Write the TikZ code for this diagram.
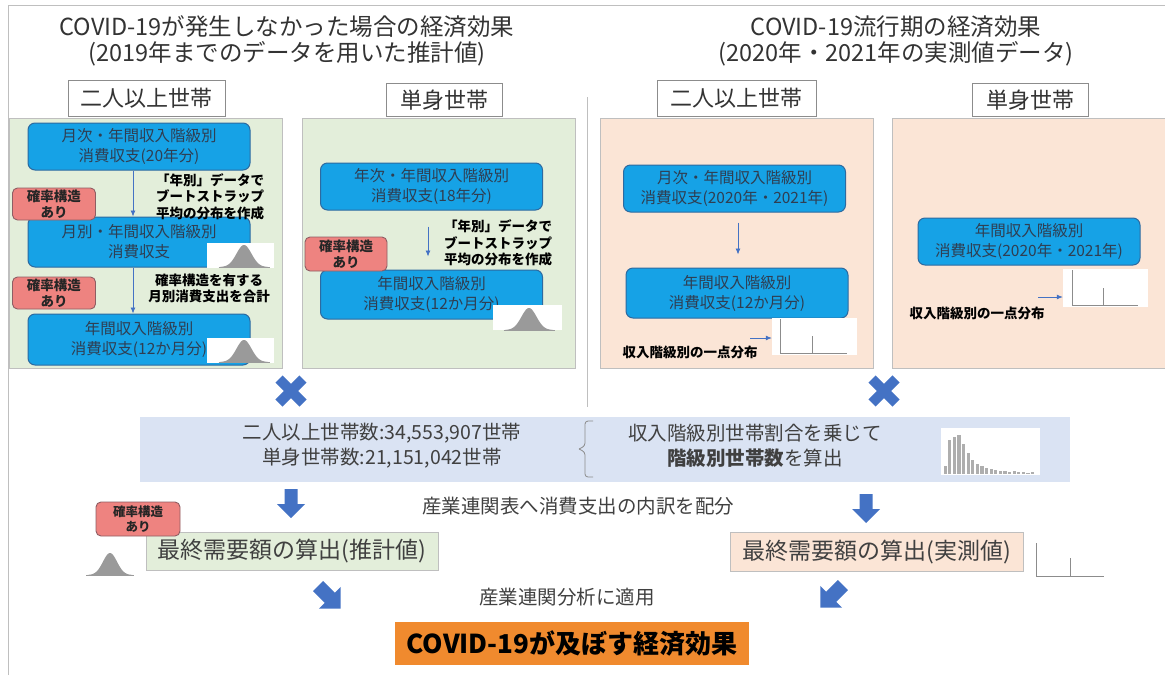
\documentclass[tikz,border=0pt]{standalone}
\usepackage{fontspec}
\setmainfont{Noto Sans CJK JP}
\usetikzlibrary{arrows.meta}
\definecolor{pgreen}{HTML}{E3EEDA}
\definecolor{ppeach}{HTML}{FBE5D6}
\definecolor{pline}{HTML}{BFBFBF}
\definecolor{bfill}{HTML}{16A2E6}
\definecolor{bdraw}{HTML}{2D6AA0}
\definecolor{btext}{HTML}{2F3E52}
\definecolor{rfill}{HTML}{EE8380}
\definecolor{rdraw}{HTML}{8E5D63}
\definecolor{ablue}{HTML}{4472C4}
\definecolor{bandc}{HTML}{DAE3F3}
\definecolor{orangec}{HTML}{F08A2E}
\definecolor{tgray}{HTML}{333333}
\definecolor{mgray}{HTML}{404040}
\definecolor{bellgray}{HTML}{9A9A9A}
\definecolor{axgray}{HTML}{8C8C8C}
\newcommand\blockarrow[4]{\fill[ablue,shift={(#1,#2)},rotate=#3,scale=#4] (-6.5,-14) -- (6.5,-14) -- (6.5,1) -- (14,1) -- (0,15) -- (-14,1) -- (-6.5,1) -- cycle;}
\newcommand\crossmark[2]{\draw[ablue,line width=10pt,shift={(#1,#2)}] (-12,-12) -- (12,12) (-12,12) -- (12,-12);}
\newcommand\bellcurve[4]{\fill[bellgray] plot[domain=-3.2:3.2,samples=50] ({#1+#3*\x},{#2-#4*exp(-(\x*\x)/2)}) -- cycle;
  \draw[bellgray,line width=0.6pt] ({#1-3.4*#3},#2) -- ({#1+3.4*#3},#2);}
\newcommand\spikeplot[6]{\draw[axgray,line width=0.9pt] (#1,#2) -- (#1,#3) -- (#4,#3); \draw[axgray,line width=0.9pt] (#5,#6) -- (#5,#3);}
\tikzset{
  panelG/.style={fill=pgreen,draw=pline,line width=0.8pt,minimum width=273,minimum height=250,inner sep=0},
  panelP/.style={fill=ppeach,draw=pline,line width=0.8pt,minimum width=273,minimum height=250,inner sep=0},
  hdr/.style={draw=axgray,fill=white,line width=0.8pt,text=tgray,font=\fontsize{22}{26}\selectfont,minimum height=36,inner sep=0},
  ttl/.style={text=tgray,align=center,font=\fontsize{23.5}{26}\selectfont,inner sep=0},
  bbox/.style={rounded corners=7pt,fill=bfill,draw=bdraw,line width=1pt,text=btext,align=center,font=\fontsize{15.5}{20}\selectfont,minimum width=222,inner sep=0},
  redbox/.style={rounded corners=5pt,fill=rfill,draw=rdraw,line width=0.9pt,text=black!85,align=center,font=\bfseries\fontsize{13.5}{16}\selectfont,minimum width=83,minimum height=32,inner sep=0},
  note/.style={text=black,align=center,font=\bfseries\fontsize{13.5}{16.5}\selectfont,inner sep=0},
  imgbox/.style={fill=white,draw=none,inner sep=0},
  thinarrow/.style={draw=ablue,line width=0.8pt,-{Latex[length=6pt,width=5pt]}},
  midtxt/.style={text=mgray,align=center,font=\fontsize{19.5}{25}\selectfont,inner sep=0},
  captxt/.style={text=mgray,font=\fontsize{19.5}{24}\selectfont,inner sep=0},
  resbox/.style={draw=pline,line width=0.8pt,text=mgray,font=\fontsize{23}{27}\selectfont,inner sep=0}
}
\begin{document}
\begin{tikzpicture}[x=1pt,y=-1pt]
\useasboundingbox (0,0) rectangle (1165,675);
% outer frame
\draw[pline,line width=1pt] (8,675) -- (8,5) -- (1165,5);
% titles
\node[ttl] (tL) at (287,41) {COVID-19が発生しなかった場合の経済効果\\(2019年までのデータを用いた推計値)};
\node[ttl] (tR) at (896,41) {COVID-19流行期の経済効果\\(2020年・2021年の実測値データ)};
% divider
\draw[pline,line width=0.9pt] (587,97) -- (587,407);
% panels
\node[panelG] (p1) at (146,243) {};
\node[panelG] (p2) at (438.5,243) {};
\node[panelP] (p3) at (736.5,243) {};
\node[panelP] (p4) at (1028.5,243) {};
% header boxes
\node[hdr,minimum width=157] (h1) at (146.5,98) {二人以上世帯};
\node[hdr,minimum width=116,minimum height=33] (h2) at (444,100) {単身世帯};
\node[hdr,minimum width=159] (h3) at (736.5,98) {二人以上世帯};
\node[hdr,minimum width=116,minimum height=33] (h4) at (1030,100) {単身世帯};
% panel 1
\node[bbox,minimum height=47] (A) at (139,146.5) {月次・年間収入階級別\\消費収支(20年分)};
\node[bbox,minimum height=50] (B) at (139,242) {月別・年間収入階級別\\消費収支};
\node[bbox,minimum height=51] (C) at (139,339.5) {年間収入階級別\\消費収支(12か月分)};
\draw[thinarrow] ([xshift=-6]A.south) -- ([xshift=-6]B.north);
\draw[thinarrow] ([xshift=-6]B.south) -- ([xshift=-6]C.north);
\node[redbox] (r1) at (54,204) {確率構造\\あり};
\node[redbox] (r2) at (54,293) {確率構造\\あり};
\node[note] (n1) at (210,196.5) {「年別」データで\\ブートストラップ\\平均の分布を作成};
\node[note] (n2) at (209,288.5) {確率構造を有する\\月別消費支出を合計};
\node[imgbox,minimum width=67,minimum height=25] (bB) at (240.5,255.5) {};
\bellcurve{244}{267}{7.5}{22}
\node[imgbox,minimum width=67,minimum height=25] (bC) at (240.5,350) {};
\bellcurve{244}{362}{7.5}{22}
% panel 2
\node[bbox,minimum height=47] (D) at (431.5,186.5) {年次・年間収入階級別\\消費収支(18年分)};
\node[bbox,minimum height=49] (E) at (431.5,294.5) {年間収入階級別\\消費収支(12か月分)};
\draw[thinarrow,shorten <=16pt,shorten >=13pt] ([xshift=-3.5]D.south) -- ([xshift=-3.5]E.north);
\node[redbox,minimum width=82,minimum height=34] (r3) at (346,254) {確率構造\\あり};
\node[note] (n3) at (498,243) {「年別」データで\\ブートストラップ\\平均の分布を作成};
\node[imgbox,minimum width=69,minimum height=25] (bE) at (527.5,317.5) {};
\bellcurve{529}{330}{7.5}{22}
% panel 3
\node[bbox,minimum height=47] (F) at (734.5,188.5) {月次・年間収入階級別\\消費収支(2020年・2021年)};
\node[bbox,minimum height=50] (G) at (737,293) {年間収入階級別\\消費収支(12か月分)};
\draw[thinarrow,shorten <=10pt,shorten >=13pt] ([xshift=3.5]F.south) -- ([xshift=3.5]F.south |- G.north);
\node[imgbox,minimum width=85,minimum height=37] (sG) at (814.5,336.5) {};
\spikeplot{780}{319}{353}{847}{812}{336}
\coordinate (aG) at (750,338);
\draw[thinarrow] (aG) -- (aG -| sG.west);
\node[note] (n4) at (690,352) {収入階級別の一点分布};
% panel 4
\node[bbox,minimum height=47] (H) at (1029,241.5) {年間収入階級別\\消費収支(2020年・2021年)};
\node[imgbox,minimum width=85,minimum height=38] (sH) at (1105.5,287.5) {};
\spikeplot{1072}{270}{305}{1138}{1103}{288}
\coordinate (aH) at (1038,297);
\draw[thinarrow] (aH) -- (aH -| sH.west);
\node[note] (n5) at (977,313) {収入階級別の一点分布};
% crosses
\crossmark{291}{391}
\crossmark{884}{391}
% band
\node[fill=bandc,minimum width=930,minimum height=65,inner sep=0] (band) at (605,449) {};
\node[midtxt] (hh) at (382,446) {二人以上世帯数:34,553,907世帯\\単身世帯数:21,151,042世帯};
\draw[axgray,line width=0.8pt,rounded corners=3pt] (593,421) -- (585,421) -- (585,446) -- (579,449);
\draw[axgray,line width=0.8pt,rounded corners=3pt] (579,449) -- (585,452) -- (585,477) -- (593,477);
\node[midtxt] (ratio) at (755,446) {収入階級別世帯割合を乗じて\\{\bfseries 階級別世帯数}を算出};
\node[imgbox,minimum width=99,minimum height=47] (hist) at (990.5,451.5) {};
\foreach \h [count=\i] in {0.2,0.8,0.88,0.92,0.72,0.5,0.34,0.25,0.19,0.14,0.11,0.09,0.07,0.06,0.05,0.06,0.04,0.05,0.03,0.04} {
  \fill[bellgray!80] ({939+4.6*\i},474) rectangle ++(3.2,{-\h*42});
}
% down arrows and caption
\blockarrow{291}{503}{0}{1}
\blockarrow{866}{508}{0}{1}
\node[captxt] (cap1) at (578,506) {産業連関表へ消費支出の内訳を配分};
% result boxes
\node[resbox,fill=pgreen,minimum width=292,minimum height=38] (resG) at (292,551) {最終需要額の算出(推計値)};
\node[redbox,minimum width=84,minimum height=34,font=\bfseries\fontsize{12.5}{15}\selectfont] (r4) at (138,519) {確率構造\\あり};
\bellcurve{110}{575}{7}{22}
\node[resbox,fill=ppeach,minimum width=293,minimum height=39] (resP) at (876.5,552) {最終需要額の算出(実測値)};
\node[imgbox,minimum width=85,minimum height=36] (sR) at (1070.5,559.5) {};
\spikeplot{1036}{543}{576}{1104}{1070}{558}
% diagonal arrows
\blockarrow{329}{597}{45}{1.1}
\blockarrow{832}{596}{-45}{1.1}
\node[captxt] (cap2) at (567,597) {産業連関分析に適用};
% final
\node[fill=orangec,minimum width=354,minimum height=43,inner sep=0,text=black,font=\bfseries\fontsize{26}{30}\selectfont] (fin) at (572,643.5) {COVID-19が及ぼす経済効果};
\end{tikzpicture}
\end{document}
